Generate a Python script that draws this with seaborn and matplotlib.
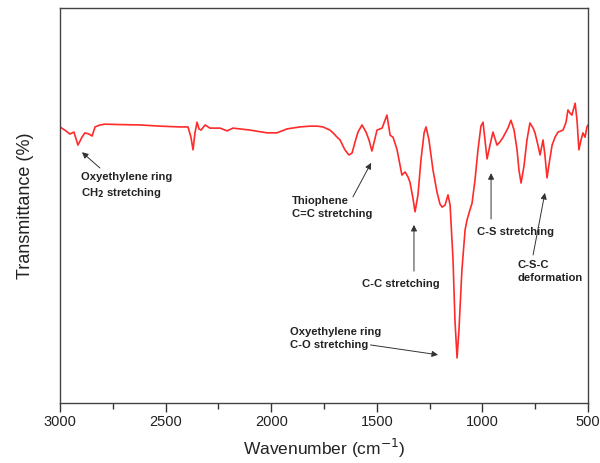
import matplotlib
matplotlib.use("Agg")
import matplotlib.pyplot as plt
import seaborn as sns
import pandas as pd
from matplotlib.ticker import MultipleLocator

wavenumber = [3000, 2972, 2953, 2934, 2915, 2896, 2882, 2863, 2848, 2834, 2811, 2787,
              2716, 2621, 2527, 2432, 2394, 2380, 2370, 2361, 2351, 2342, 2332, 2313,
              2290, 2242, 2209, 2181, 2100, 2020, 1973, 1925, 1864, 1816, 1783, 1755,
              1722, 1707, 1688, 1674, 1651, 1632, 1617, 1603, 1589, 1570, 1551, 1537,
              1523, 1508, 1499, 1475, 1461, 1452, 1437, 1423, 1404, 1381, 1366, 1352,
              1343, 1329, 1319, 1305, 1291, 1276, 1267, 1253, 1234, 1215, 1201, 1191,
              1177, 1163, 1153, 1139, 1130, 1120, 1111, 1097, 1082, 1073, 1059, 1049,
              1035, 1021, 1007, 997, 988, 978, 964, 950, 931, 917, 902, 879, 865, 850,
              836, 827, 817, 803, 789, 775, 760, 751, 737, 727, 713, 704, 694, 685,
              670, 656, 642, 618, 604, 595, 585, 576, 561, 552, 543, 533, 524, 514,
              505, 500]
transmittance = [69.9, 68.9, 68.1, 68.6, 65.3, 67.3, 68.4, 68.1, 67.6, 69.9, 70.4, 70.6,
                 70.5, 70.4, 70.1, 69.9, 69.9, 67.3, 64.1, 68.4, 71.1, 69.4, 69.1, 70.4,
                 69.6, 69.6, 68.9, 69.6, 69.1, 68.4, 68.4, 69.4, 69.9, 70.1, 70.1, 69.9,
                 69.1, 68.4, 67.3, 66.6, 64.1, 62.8, 63.3, 66.1, 68.6, 70.4, 68.6, 66.6,
                 63.8, 67.1, 69.1, 69.6, 71.6, 72.9, 67.8, 67.3, 64.1, 57.7, 58.5, 57.2,
                 55.9, 51.9, 48.4, 52.7, 61.5, 68.4, 69.9, 66.6, 59.0, 53.4, 50.4, 49.6,
                 50.1, 52.7, 50.1, 36.2, 21.0, 11.4, 18.5, 33.7, 43.8, 46.3, 48.9, 50.6,
                 56.5, 64.1, 70.1, 71.1, 66.6, 61.8, 65.3, 68.6, 65.3, 66.1, 67.3, 69.6,
                 71.6, 69.1, 64.1, 59.0, 55.7, 60.0, 66.6, 70.9, 69.6, 68.4, 65.3, 62.8,
                 66.6, 62.8, 57.0, 60.3, 65.3, 67.3, 68.6, 69.1, 71.1, 74.2, 73.4, 72.9,
                 75.9, 71.6, 64.1, 66.6, 68.4, 67.3, 69.9, 70.4]

x_ticks = [3000, 2500, 2000, 1500, 1000, 500]
annotations = [
    ("Oxyethylene ring\nCH$_\\mathbf{2}$ stretching", (2901, 58.4), (2811, 59.5), (2896, 63.5)),
    ("Thiophene\nC=C stretching", (1901, 52.4), (1613, 52.2), (1527, 60.8)),
    ("C-C stretching", (1570, 31.3), (1324, 33.4), (1324, 45.1)),
    ("Oxyethylene ring\nC-O stretching", (1911, 19.2), (1530, 14.7), (1210, 12.2)),
    ("C-S stretching", (1025, 44.6), (959, 46.6), (959, 58.2)),
    ("C-S-C\ndeformation", (836, 36.3), (760, 37.5), (704, 53.2)),
]

df = pd.DataFrame({"Wavenumber": wavenumber, "Transmittance": transmittance})

sns.set_style("white")
plt.rcParams["font.family"] = ["Liberation Sans", "DejaVu Sans"]

fig = plt.figure(figsize=(6, 4.63), dpi=100)
ax = fig.add_axes([0.1, 0.1296, 0.88, 0.853])
sns.lineplot(data=df, x="Wavenumber", y="Transmittance", ax=ax, color="#ff2a2a",
             linewidth=1.2, sort=False, estimator=None)

ax.set_xlim(3000, 500)
ax.set_ylim(0, 100)
ax.set_xticks(x_ticks)
ax.set_xticklabels([str(t) for t in x_ticks], fontsize=10.5, color="#222222")
ax.xaxis.set_minor_locator(MultipleLocator(250))
ax.tick_params(axis="x", which="major", direction="out", length=6.5, width=1,
               color="#333333", bottom=True, pad=2.5)
ax.tick_params(axis="x", which="minor", direction="out", length=4, width=1,
               color="#333333", bottom=True)
ax.set_yticks([])
for s in ax.spines.values():
    s.set_color("#444444")
    s.set_linewidth(1.0)

ax.set_xlabel("Wavenumber (cm$^{-1}$)", fontsize=12.5, labelpad=5, color="#222222")
ax.set_ylabel("Transmittance (%)", fontsize=13, labelpad=19, color="#222222")

for text, tpos, tail, head in annotations:
    ax.text(tpos[0], tpos[1], text, fontsize=8.1, fontweight="bold", ha="left",
            va="top", color="#222222", linespacing=1.4)
    ax.annotate("", xy=head, xytext=tail,
                arrowprops=dict(arrowstyle="-|>", color="#333333", lw=0.7,
                                mutation_scale=9, shrinkA=0, shrinkB=0))

fig.savefig("out.png", dpi=100)
